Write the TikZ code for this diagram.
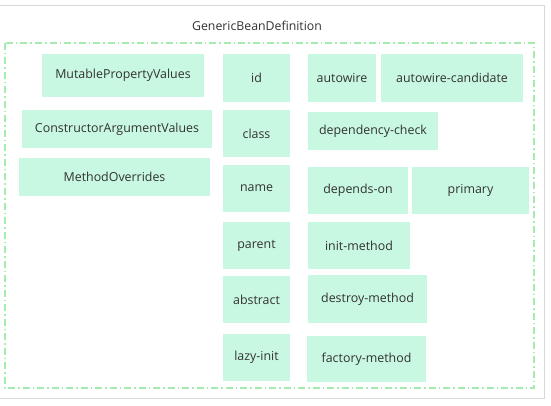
\documentclass[tikz,border=0pt]{standalone}
\usepackage{fontspec}
\setmainfont{Open Sans}
\begin{document}
\begin{tikzpicture}[x=1pt,y=-1pt,
  box/.style={draw=none,fill=boxfill,text=textc,font=\fontsize{12.4}{14}\selectfont,inner sep=0pt},
  frame/.style={draw=framec,line width=1.2pt,dash pattern=on 7pt off 3pt on 1.5pt off 3pt}]
\definecolor{boxfill}{RGB}{200,248,226}
\definecolor{textc}{RGB}{50,50,50}
\definecolor{framec}{RGB}{165,235,175}
\useasboundingbox (0,0) rectangle (551,406);
\draw[black!15,line width=1pt] (-2,6) -- (544,6) -- (544,398) -- (-2,398);
\node[font=\fontsize{12.3}{14}\selectfont,text=textc] (title) at (257,26) {GenericBeanDefinition};
\draw[frame] (5,43) rectangle (534,388);
\newcommand\bx[6]{\node[box,minimum width=#4,minimum height=#5] (#1) at (#2,#3) {#6};}
\bx{mpv}{123}{75.5}{162}{43}{MutablePropertyValues}
\bx{cav}{117}{129}{190}{38}{ConstructorArgumentValues}
\bx{mo}{114.5}{177}{191}{38}{MethodOverrides}
\bx{id}{256.5}{78}{67}{48}{id}
\bx{class}{256.5}{133.5}{67}{47}{class}
\bx{name}{256.5}{188.5}{67}{47}{name}
\bx{parent}{256.5}{245.5}{67}{47}{parent}
\bx{abstract}{256.5}{299.5}{67}{47}{abstract}
\bx{lazy}{256.5}{357.5}{67}{47}{lazy-init}
\bx{autowire}{342}{78}{68}{48}{autowire}
\bx{awc}{452}{78}{142}{48}{autowire-candidate}
\bx{depcheck}{373}{131}{130}{38}{dependency-check}
\bx{dependson}{358}{190.5}{100}{47}{depends-on}
\bx{primary}{470.5}{190.5}{117}{47}{primary}
\bx{init}{359}{245.5}{102}{47}{init-method}
\bx{destroy}{367.5}{299}{119}{48}{destroy-method}
\bx{factory}{366.5}{359}{119}{46}{factory-method}
\end{tikzpicture}
\end{document}
